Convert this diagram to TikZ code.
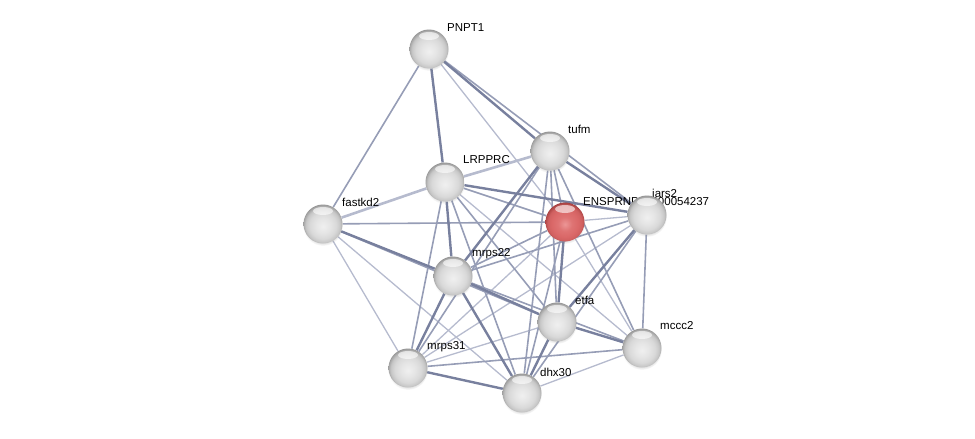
\documentclass[tikz,border=0pt]{standalone}
\usepackage{fontspec}
\setmainfont{Liberation Sans}
\usetikzlibrary{backgrounds,shadows}
\definecolor{edgeA}{RGB}{182,187,206}
\definecolor{edgeB}{RGB}{150,157,182}
\definecolor{edgeC}{RGB}{120,128,158}
\definecolor{redbody}{RGB}{218,104,104}
\definecolor{redlight}{RGB}{236,150,150}
\definecolor{redrim}{RGB}{150,52,52}
\pgfdeclareradialshading{graysphere}{\pgfpoint{0bp}{-3bp}}{%
  color(0bp)=(black!6); color(9bp)=(black!10);
  color(17bp)=(black!15); color(22bp)=(black!22); color(25bp)=(black!34);
  color(28bp)=(black!48); color(50bp)=(black!48)}
\pgfdeclareradialshading{redsphere}{\pgfpoint{0bp}{-3bp}}{%
  color(0bp)=(redlight); color(9bp)=(redbody!75!redlight);
  color(17bp)=(redbody); color(22bp)=(redbody!85!redrim); color(25bp)=(redbody!45!redrim);
  color(28bp)=(redrim); color(50bp)=(redrim)}
\tikzset{
  ballnode/.style={circle, minimum size=39pt, inner sep=0pt, shading=graysphere,
    circular drop shadow={shadow xshift=0pt, shadow yshift=-2pt, opacity=0.22, shadow scale=1.02},
    path picture={\fill[white, fill opacity=0.6]
      ([yshift=13pt]path picture bounding box.center) ellipse (10pt and 4pt);}},
  rednode/.style={ballnode, shading=redsphere},
  lbl/.style={anchor=west, font=\fontsize{11.5}{12}\selectfont, inner sep=0pt},
  e1/.style={draw=edgeA, line width=1.3pt},
  e2/.style={draw=edgeB, line width=1.6pt},
  e3/.style={draw=edgeC, line width=2.4pt},
}
\begin{document}
\begin{tikzpicture}[x=1pt,y=-1pt]
\useasboundingbox (0,0) rectangle (975,439);
% labels (under the balls)
\node[lbl] (lP) at (447,28) {PNPT1};
\node[lbl] (lT) at (568,129) {tufm};
\node[lbl] (lL) at (463,160) {LRPPRC};
\node[lbl] (lF) at (342,202) {fastkd2};
\node[lbl] (lE) at (583,202) {ENSPRNP00000054237};
\node[lbl] (lI) at (652,193) {iars2};
\node[lbl] (lM22) at (472,254) {mrps22};
\node[lbl] (lEt) at (575,300) {etfa};
\node[lbl] (lMc) at (660,326) {mccc2};
\node[lbl] (lM31) at (427,347) {mrps31};
\node[lbl] (lD) at (540,372) {dhx30};
% nodes
\node[ballnode] (P) at (429,49) {};
\node[ballnode] (T) at (550,151) {};
\node[ballnode] (L) at (445,182) {};
\node[ballnode] (F) at (323,224) {};
\node[rednode]  (E) at (565,222) {};
\node[ballnode] (I) at (647,215) {};
\node[ballnode] (M22) at (453,276) {};
\node[ballnode] (Et) at (557,322) {};
\node[ballnode] (Mc) at (642,348) {};
\node[ballnode] (M31) at (408,368) {};
\node[ballnode] (D) at (522,393) {};
\begin{pgfonlayer}{background}
\foreach \a/\b in {P/E, L/Mc, F/M31, F/D, E/I, E/M31, E/Mc, I/M31, Et/M31, Mc/D}
  \path[e1] (\a) -- (\b);
\path[e1, line width=2.6pt] (L) -- (F);
\path[e1, line width=2.6pt] (L) -- (T);
\foreach \a/\b in {P/F, P/I, L/E, L/M31, L/D, L/Et, F/E, F/Et, T/E, T/M31, T/Et, T/D, T/Mc, E/M22, E/D, I/M22, I/Mc, I/D, M22/Mc, Mc/M31}
  \path[e2] (\a) -- (\b);
\foreach \a/\b in {P/L, P/T, L/I, L/M22, F/M22, T/I, T/M22, E/Et, I/Et, M22/Et, M22/M31, M22/D, Et/Mc, Et/D, M31/D}
  \path[e3] (\a) -- (\b);
\end{pgfonlayer}
\end{tikzpicture}
\end{document}
